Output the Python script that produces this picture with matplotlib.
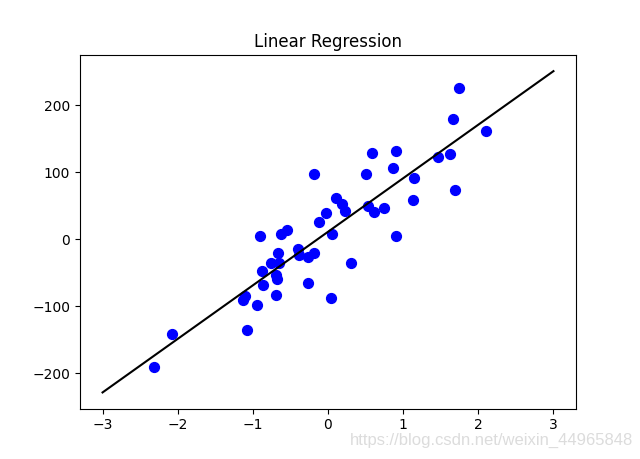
import numpy as np
import matplotlib
matplotlib.use("Agg")
import matplotlib.pyplot as plt

# points
x_pts = [-2.31, -2.07, -1.08, -1.11, -1.13, -0.94, -0.90, -0.88, -0.86, -0.76,
         -0.69, -0.68, -0.69, -0.67, -0.65, -0.62, -0.54, -0.40, -0.38, -0.27,
         -0.26, -0.18, -0.19, -0.12, -0.02, 0.05, 0.04, 0.11, 0.18, 0.23,
         0.31, 0.50, 0.53, 0.58, 0.61, 0.74, 0.86, 0.90, 0.90, 1.13,
         1.14, 1.46, 1.62, 1.66, 1.69, 1.74, 2.10]
y_pts = [-191, -142, -136, -85, -91, -98, 5, -48, -68, -36,
         -54, -59, -83, -20, -35, 8, 14, -14, -23, -27,
         -66, -20, 98, 25, 39, 8, -88, 61, 52, 42,
         -36, 98, 50, 129, 40, 46, 107, 132, 4, 58,
         92, 123, 127, 179, 73, 226, 161]

# fitted line
line_x = [-3, 3]
line_y = [-229, 251]

fig = plt.figure(figsize=(6.4, 4.59), dpi=100)
plt.scatter(x_pts, y_pts, color="blue", s=50)
plt.plot(line_x, line_y, color="black")
plt.title("Linear Regression")
fig.text(0.99, 0.025, "https://blog.csdn.net/weixin_44965848", ha="right",
         va="bottom", color="#dcdcdc", fontsize=12, family="Liberation Sans")
plt.savefig("out.png")
